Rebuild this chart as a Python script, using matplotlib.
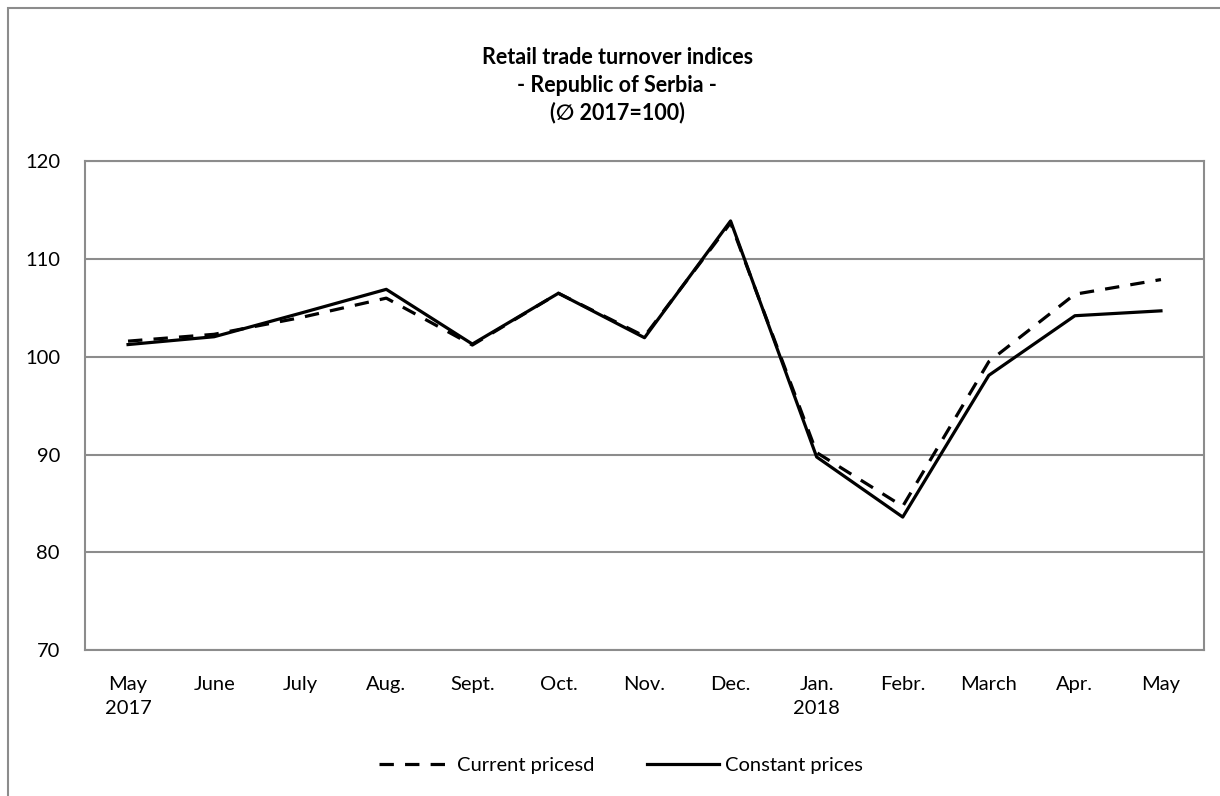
import matplotlib
matplotlib.use("Agg")
import matplotlib.pyplot as plt
from matplotlib.patches import Rectangle

months = ["May\n2017", "June", "July", "Aug.", "Sept.", "Oct.", "Nov.", "Dec.",
          "Jan.\n2018", "Febr.", "March", "Apr.", "May"]
current_prices = [101.6, 102.3, 104.0, 106.0, 101.2, 106.5, 102.1, 113.7,
                  90.2, 84.7, 99.5, 106.4, 107.9]
constant_prices = [101.25, 102.05, 104.45, 106.9, 101.3, 106.5, 101.95, 113.9,
                   89.75, 83.6, 98.1, 104.2, 104.7]
yticks = [70, 80, 90, 100, 110, 120]

plt.rcParams['font.family'] = ['Lato', 'DejaVu Sans']

fig = plt.figure(figsize=(12.2, 7.96), dpi=100)
W, H = 1220, 796
ax = fig.add_axes([85 / W, 1 - 650 / H, (1204 - 85) / W, (650 - 161.3) / H])

# outer chart frame
fig.patches.append(Rectangle((8 / W, -0.1), 1.2, 1 - 8 / H + 0.1,
                             transform=fig.transFigure, fill=False,
                             edgecolor='#8c8c8c', linewidth=1.5))

x = list(range(len(months)))
l1, = ax.plot(x, current_prices, color='black', linewidth=2.3,
              linestyle=(0, (4.5, 3.5)), label='Current pricesd')
l2, = ax.plot(x, constant_prices, color='black', linewidth=2.3,
              label='Constant prices')

ax.set_xlim(-0.5, len(months) - 0.5)
ax.set_ylim(70, 120)
ax.set_yticks(yticks)
ax.set_yticklabels([str(v) for v in yticks])
ax.set_xticks(x)
ax.set_xticklabels(months, linespacing=1.5)
ax.tick_params(axis='both', length=0, labelsize=14.5)
ax.tick_params(axis='y', pad=18)
ax.tick_params(axis='x', pad=19)
ax.grid(axis='y', color='#8c8c8c', linewidth=1.5)
for s in ax.spines.values():
    s.set_color('#8c8c8c')
    s.set_linewidth(1.5)

for txt, yy in [("Retail trade turnover indices", 57),
                ("- Republic of Serbia -", 85),
                ("(\u2205 2017=100)", 113)]:
    fig.text(0.506, 1 - yy / H, txt, ha='center', va='center',
             fontsize=15.5, fontweight='bold')

fig.legend(handles=[l1, l2], loc='center', bbox_to_anchor=(621 / W, 1 - 765 / H),
           ncol=2, frameon=False, fontsize=14.5, handlelength=3.6,
           handletextpad=0.3, columnspacing=2.6)

fig.savefig("out.png", dpi=100)
